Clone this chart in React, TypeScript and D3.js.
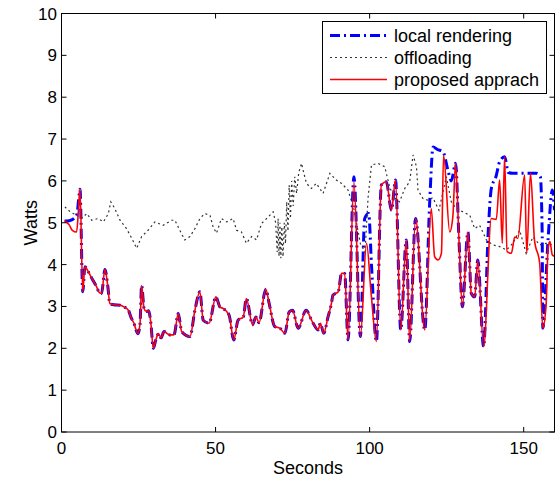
import React from "react";
import * as d3 from "d3";

const xTicks = [0, 50, 100, 150];
const yTicks = [0, 1, 2, 3, 4, 5, 6, 7, 8, 9, 10];

const legendLabels = ["local rendering", "offloading", "proposed apprach"];

// proposed approach (red)
const redT = [1.0, 2.5, 3.5, 4.9, 5.5, 6.0, 6.9, 7.6, 8.7, 10.0, 11.4, 12.3, 13.0, 14.1, 15.0, 15.7, 17, 19, 20, 21.7, 22.5, 23.5, 24.8, 25.5, 26.0, 26.8, 27.5, 28.3, 29.0, 29.8, 30.6, 31.5, 32.3, 33.3, 34.3, 35.2, 36.5, 37.9, 39.0, 41.7, 43.3, 44.9, 46.0, 47.9, 50.1, 51.4, 52.5, 54.4, 55.9, 57.3, 59.0, 60.0, 62.0, 63.1, 64.1, 66.3, 67.4, 69.2, 70.9, 72.5, 73.9, 75.0, 76.8, 79.4, 81.3, 83.3, 84.0, 85.1, 86.5, 87.6, 88.1, 89.8, 90.9, 91.9, 93.0, 94.9, 97.0, 99.0, 100.5, 102.2, 103.8, 105.4, 107.1, 108.4, 110.1, 111.9, 113.0, 114.9, 117.9, 120.0, 121.1, 122.2, 123.3, 124.0, 126.0, 127.0, 127.9, 129.0, 130.1, 131.9, 133.0, 134.1, 135.1, 137.0, 139.5, 141.1, 142.2, 143.05, 143.8, 144.6, 146.0, 147.1, 148.1, 150.3, 151.0, 152.2, 153.5, 155.2, 156.2, 157.3, 157.9, 158.5, 159.3, 160];
const redV = [5.04, 4.95, 4.82, 4.78, 5.3, 5.82, 3.35, 3.95, 3.83, 3.65, 3.47, 3.33, 3.31, 3.88, 3.5, 3.07, 3.04, 3.03, 3.0, 2.91, 2.75, 2.6, 2.35, 2.6, 3.5, 2.95, 2.88, 2.9, 2.6, 2.0, 2.2, 2.35, 2.25, 2.4, 2.35, 2.32, 2.32, 2.83, 2.4, 2.28, 2.91, 3.35, 2.67, 2.6, 3.23, 2.99, 2.95, 2.79, 2.2, 2.67, 2.75, 3.19, 2.56, 2.75, 2.61, 3.41, 3.07, 2.52, 2.48, 2.36, 2.87, 2.91, 2.48, 2.91, 2.65, 2.44, 2.6, 2.36, 2.75, 3.07, 3.27, 3.35, 3.79, 3.79, 2.2, 5.98, 2.28, 4.51, 3.3, 2.16, 5.9, 5.98, 5.3, 6.02, 2.44, 4.59, 2.16, 5.1, 2.44, 5.34, 4.19, 4.11, 4.27, 6.62, 4.78, 5.14, 6.42, 4.59, 2.99, 4.78, 3.31, 3.23, 4.11, 2.04, 5.1, 5.08, 6.02, 4.51, 6.58, 4.31, 4.27, 4.66, 4.63, 6.14, 4.27, 6.18, 4.59, 4.03, 2.48, 3.07, 4.39, 4.55, 4.23, 4.2];

// local rendering (blue)
const blueT = [1.0, 2.5, 4.0, 5.0, 5.7, 6.0, 6.9, 7.6, 8.7, 10.0, 11.4, 12.3, 13.0, 14.1, 15.0, 15.7, 17, 19, 20, 21.7, 22.5, 23.5, 24.8, 25.5, 26.0, 26.8, 27.5, 28.3, 29.0, 29.8, 30.6, 31.5, 32.3, 33.3, 34.3, 35.2, 36.5, 37.9, 39.0, 41.7, 43.3, 44.9, 46.0, 47.9, 50.1, 51.4, 52.5, 54.4, 55.9, 57.3, 59.0, 60.0, 62.0, 63.1, 64.1, 66.3, 67.4, 69.2, 70.9, 72.5, 73.9, 75.0, 76.8, 79.4, 81.3, 83.3, 84.0, 85.1, 86.5, 87.6, 88.1, 89.8, 90.9, 91.9, 93.0, 94.9, 97.0, 98.4, 99.7, 100.6, 102.2, 103.8, 105.4, 107.1, 108.4, 110.1, 111.9, 113.0, 114.9, 117.9, 119.5, 120.6, 122.0, 123.8, 125.4, 126.5, 127.9, 129.0, 130.1, 131.9, 133.0, 134.1, 135.1, 137.0, 138.5, 139.5, 141.0, 142.2, 143.8, 145.0, 146.5, 150.0, 152.0, 154.1, 155.4, 156.0, 156.2, 157.9, 159.3, 160];
const blueV = [5.04, 5.05, 5.1, 5.2, 5.66, 5.8, 3.35, 3.95, 3.83, 3.65, 3.47, 3.33, 3.31, 3.88, 3.5, 3.07, 3.04, 3.03, 3.0, 2.91, 2.75, 2.6, 2.35, 2.6, 3.5, 2.95, 2.88, 2.9, 2.6, 2.0, 2.2, 2.35, 2.25, 2.4, 2.35, 2.32, 2.32, 2.83, 2.4, 2.28, 2.91, 3.35, 2.67, 2.6, 3.23, 2.99, 2.95, 2.79, 2.2, 2.67, 2.75, 3.19, 2.56, 2.75, 2.61, 3.41, 3.07, 2.52, 2.48, 2.36, 2.87, 2.91, 2.48, 2.91, 2.65, 2.44, 2.6, 2.36, 2.75, 3.07, 3.27, 3.35, 3.79, 3.79, 2.2, 6.1, 2.28, 5.1, 5.22, 4.0, 2.16, 5.9, 5.98, 5.3, 6.02, 2.44, 4.59, 2.16, 5.1, 2.44, 5.5, 6.81, 6.75, 6.7, 6.26, 6.0, 6.42, 4.59, 2.99, 4.78, 3.31, 3.23, 4.11, 2.04, 4.8, 5.82, 6.1, 6.46, 6.58, 6.2, 6.18, 6.18, 6.18, 6.18, 6.1, 4.75, 2.48, 4.59, 5.78, 5.3];

// offloading (dotted)
const grayT = [1.1, 3.0, 4.9, 6.5, 8.2, 9.8, 11.9, 13.6, 15.2, 16.0, 17.3, 19.0, 21.1, 22.8, 24.4, 26.0, 28.1, 30.3, 33.0, 35.7, 36.8, 38.4, 40.0, 41.7, 43.3, 44.9, 46.5, 48.2, 49.2, 50.3, 51.9, 53.6, 55.7, 56.8, 58.4, 60.0, 61.7, 63.3, 64.9, 67.1, 68.7, 69.5, 70.0, 70.3, 70.6, 70.9, 71.2, 71.5, 71.9, 72.3, 72.7, 73.1, 73.5, 73.9, 74.3, 74.7, 75.2, 75.7, 76.3, 77.0, 77.9, 78.4, 79.5, 81.1, 82.7, 84.9, 87.1, 89.2, 90.9, 93.0, 95.0, 97.0, 98.5, 99.5, 100.6, 102.7, 104.9, 106.5, 108.0, 109.7, 111.4, 113.0, 114.1, 115.2, 115.7, 117.3, 118.9, 120.5, 122.5, 124.9, 126.5, 128.1, 130.3, 132.5, 134.1, 135.7, 137.9, 140.0, 142.2, 144.4, 146.5, 148.7, 150.8, 153.0, 155.2, 157.3, 159.4, 160];
const grayV = [5.38, 5.25, 5.18, 5.1, 5.22, 5.06, 5.1, 5.02, 5.22, 5.5, 5.34, 5.06, 4.86, 4.63, 4.39, 4.67, 4.82, 5.02, 4.94, 5.06, 5.06, 4.82, 4.59, 4.67, 4.86, 5.1, 5.22, 5.18, 4.9, 4.75, 5.1, 5.02, 5.1, 4.82, 4.78, 4.51, 4.67, 4.59, 4.98, 5.14, 5.26, 5.0, 4.3, 5.1, 4.2, 5.0, 4.15, 4.9, 4.19, 5.0, 4.5, 5.5, 4.8, 5.9, 5.1, 6.0, 5.4, 6.1, 5.7, 6.2, 6.42, 6.26, 5.94, 5.82, 5.94, 5.7, 6.18, 6.02, 5.94, 5.78, 5.3, 4.5, 4.3, 5.6, 6.38, 6.42, 6.34, 5.85, 5.6, 5.5, 5.82, 5.98, 6.62, 6.34, 5.78, 5.58, 5.54, 5.6, 5.3, 6.1, 5.5, 5.34, 5.26, 5.18, 4.86, 4.94, 4.59, 4.47, 4.43, 4.35, 4.51, 4.82, 4.27, 4.66, 4.47, 4.51, 4.47, 4.45];

const W = 555;
const H = 478;
const L = 61.5;
const R = 554.5;
const T = 13.5;
const B = 432;
const FONT = "Liberation Sans, Arial, Helvetica, sans-serif";

export default function App() {
  const x = d3.scaleLinear().domain([0, 160]).range([L, R]);
  const y = d3.scaleLinear().domain([0, 10]).range([B, T]);

  const mk = (ts: number[], vs: number[], curve: any) =>
    d3
      .line<number>()
      .x((_, i) => x(ts[i]))
      .y((v) => y(v))
      .curve(curve)(vs) || "";

  const bluePath = mk(blueT, blueV, d3.curveMonotoneX);
  const grayPath = mk(grayT, grayV, d3.curveLinear);
  const redPath = mk(redT, redV, d3.curveMonotoneX);

  const tick = 5;
  const styles = [
    { stroke: "#0000ff", width: 3, dash: "10,4,2,4" },
    { stroke: "#333", width: 1.2, dash: "2,3" },
    { stroke: "#ff0000", width: 1.6, dash: "" },
  ];

  return (
    <svg
      width={W}
      height={H}
      style={{ position: "absolute", left: 0, top: 0, background: "#fff" }}
      fontFamily={FONT}
    >
      <rect x={0} y={0} width={W} height={H} fill="#fff" />
      <defs>
        <clipPath id="plot">
          <rect x={L} y={T} width={R - L} height={B - T} />
        </clipPath>
      </defs>
      <g clipPath="url(#plot)">
        <path d={bluePath} fill="none" stroke={styles[0].stroke} strokeWidth={styles[0].width} strokeDasharray={styles[0].dash} />
        <path d={grayPath} fill="none" stroke={styles[1].stroke} strokeWidth={styles[1].width} strokeDasharray={styles[1].dash} />
        <path d={redPath} fill="none" stroke={styles[2].stroke} strokeWidth={styles[2].width} strokeLinejoin="round" />
      </g>
      <rect x={L} y={T} width={R - L} height={B - T} fill="none" stroke="#000" strokeWidth={1} />
      {xTicks.map((t) => (
        <g key={"x" + t}>
          <line x1={x(t)} x2={x(t)} y1={B} y2={B - tick} stroke="#000" />
          <line x1={x(t)} x2={x(t)} y1={T} y2={T + tick} stroke="#000" />
          <text x={x(t)} y={454} fontSize={17} textAnchor="middle" fill="#000">
            {t}
          </text>
        </g>
      ))}
      {yTicks.map((t) => (
        <g key={"y" + t}>
          <line x1={L} x2={L + tick} y1={y(t)} y2={y(t)} stroke="#000" />
          <line x1={R} x2={R - tick} y1={y(t)} y2={y(t)} stroke="#000" />
          <text x={57} y={y(t) + 6} fontSize={17} textAnchor="end" fill="#000">
            {t}
          </text>
        </g>
      ))}
      <text x={(L + R) / 2} y={474} fontSize={18} textAnchor="middle" fill="#000">
        Seconds
      </text>
      <text
        transform={`translate(37, ${(T + B) / 2}) rotate(-90)`}
        fontSize={18}
        textAnchor="middle"
        fill="#000"
      >
        Watts
      </text>
      <rect x={322.5} y={21.5} width={224} height={72} fill="#fff" stroke="#000" strokeWidth={1} />
      {legendLabels.map((lab, i) => {
        const cy = 35.5 + i * 22;
        const s = styles[i];
        return (
          <g key={lab}>
            <line
              x1={330}
              x2={387}
              y1={cy}
              y2={cy}
              stroke={s.stroke}
              strokeWidth={s.width}
              strokeDasharray={s.dash || undefined}
            />
            <text x={394} y={cy + 6} fontSize={18} fill="#000">
              {lab}
            </text>
          </g>
        );
      })}
    </svg>
  );
}
